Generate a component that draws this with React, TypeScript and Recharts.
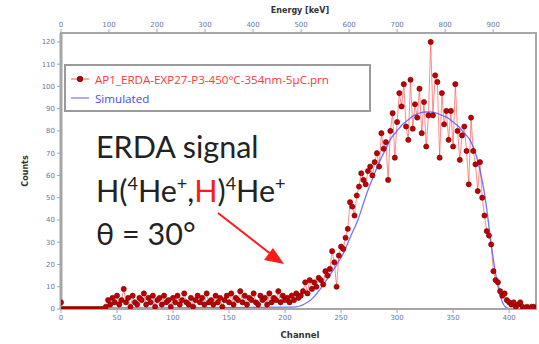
import React from "react";
import { ComposedChart, Line, XAxis, YAxis, ReferenceArea } from "recharts";

// Measured ERDA spectrum: counts per channel, one entry every CHANNEL_STEP channels starting at 0
const CHANNEL_STEP = 2;
const measuredCounts = [
  3,
  0, 0, 0, 0, 0, 0, 0, 0, 0, 0, 0, 0, 0, 0, 0, 0, 0, 0, 0,
  1, 4, 2, 5, 3, 6, 2, 4, 9, 3,
  5, 1, 6, 3, 2, 5, 4, 7, 2, 5,
  3, 6, 1, 4, 5, 2, 6, 3, 4, 1,
  5, 3, 6, 2, 4, 7, 3, 2, 5, 1,
  4, 6, 3, 5, 2, 7, 3, 4, 2, 6,
  3, 5, 1, 4, 6, 3, 7, 2, 5, 4,
  8, 3, 6, 2, 5, 4, 7, 3, 2, 6,
  4, 5, 2, 7, 3, 5, 4, 8, 3, 6,
  4, 5, 3, 6, 4, 7, 5, 6,
  8, 12, 7, 13, 9, 12, 10, 14, 13, 11,
  17, 15, 18, 26, 21, 10, 24, 28, 27, 32,
  36, 48, 46, 42, 51, 55, 61, 58, 56, 62,
  64, 60, 66, 70, 64, 79, 72, 75, 58, 80,
  88, 68, 84, 97, 91, 101, 82, 76, 103, 81,
  92, 86, 99, 79, 93, 73, 87, 120, 87, 105,
  102, 68, 97, 83, 89, 76, 89, 73, 101, 80,
  67, 78, 82, 71, 56, 86, 71, 65, 53, 66,
  50, 42, 35, 33, 29, 17, 13, 12, 8, 6,
  7, 4, 3, 2, 3, 1, 2, 3, 1, 0,
  1, 0, 1, 1, 0,
];

// Simulated spectrum
const simChannels = [
  0, 38, 42, 100, 200, 210, 220, 225, 230, 237, 245, 252, 258, 265, 273, 280, 285, 290,
  295, 300, 305, 310, 315, 320, 325, 330, 335, 340, 345, 350, 355, 360, 365, 370, 375,
  378, 380, 383, 386, 389, 392, 395, 398, 402, 424,
];
const simCounts = [
  0, 0, 0.5, 0.5, 0.8, 1, 3, 5, 8, 13, 19, 25, 32, 40, 52, 61, 67, 72,
  77, 80, 83, 85, 87, 88, 88.5, 88.5, 88, 87, 86, 84, 82, 79, 76, 70, 60,
  52, 45, 33, 22, 13, 6, 2, 0.5, 0, 0,
];

const countTicks = [0, 10, 20, 30, 40, 50, 60, 70, 80, 90, 100, 110, 120];
const channelTicks = [0, 50, 100, 150, 200, 250, 300, 350, 400];
const energyTicks = [0, 100, 200, 300, 400, 500, 600, 700, 800, 900];
const KEV_PER_CHANNEL = 2.333;
const CHANNEL_MAX = 424;
const COUNT_MAX = 124;

const measured = measuredCounts.map((c, i) => ({ ch: i * CHANNEL_STEP, counts: c }));
const simulated = simChannels.map((ch, i) => ({ ch, counts: simCounts[i] }));
const energyTickChannels = energyTicks.map((e) => e / KEV_PER_CHANNEL);

const tickStyle = { fontSize: 7, fill: "#6a7898", fontFamily: "'DejaVu Sans', sans-serif" };
const axisGray = "#a6a6a6";
const textFont = "Lato, 'Open Sans', sans-serif";
const SUP = 18;

export default function App() {
  return (
    <div style={{ position: "absolute", left: 0, top: 0, width: 539, height: 344, background: "#fff" }}>
      <ComposedChart width={539} height={344} margin={{ top: 0, right: 3, bottom: 0, left: 0 }}>
        <XAxis
          xAxisId="bottom"
          dataKey="ch"
          type="number"
          domain={[0, CHANNEL_MAX]}
          allowDataOverflow
          ticks={channelTicks}
          height={35}
          tick={tickStyle}
          tickSize={4}
          tickLine={{ stroke: axisGray }}
          axisLine={{ stroke: axisGray, strokeWidth: 2 }}
        />
        <XAxis
          xAxisId="top"
          orientation="top"
          dataKey="ch"
          type="number"
          domain={[0, CHANNEL_MAX]}
          allowDataOverflow
          ticks={energyTickChannels}
          tickFormatter={(v: number) => String(Math.round(v * KEV_PER_CHANNEL))}
          height={33}
          tick={tickStyle}
          tickSize={4}
          tickLine={{ stroke: axisGray }}
          axisLine={{ stroke: axisGray, strokeWidth: 2 }}
        />
        <YAxis
          yAxisId="left"
          type="number"
          domain={[0, COUNT_MAX]}
          allowDataOverflow
          ticks={countTicks}
          width={61}
          tick={tickStyle}
          tickSize={4}
          tickLine={{ stroke: axisGray }}
          axisLine={{ stroke: axisGray, strokeWidth: 3 }}
        />
        <ReferenceArea
          xAxisId="bottom"
          yAxisId="left"
          x1={0}
          x2={CHANNEL_MAX}
          y1={0}
          y2={COUNT_MAX}
          fill="none"
          stroke={axisGray}
          strokeWidth={2}
          ifOverflow="visible"
        />
        <Line
          xAxisId="bottom"
          yAxisId="left"
          data={measured}
          dataKey="counts"
          type="linear"
          stroke="#ff5a5a"
          strokeOpacity={0.7}
          strokeWidth={1}
          dot={{ r: 2.6, fill: "#c00000", stroke: "#6a0000", strokeWidth: 0.8 }}
          isAnimationActive={false}
        />
        <Line
          xAxisId="bottom"
          yAxisId="left"
          data={simulated}
          dataKey="counts"
          type="monotone"
          stroke="#5a5aff"
          strokeOpacity={0.85}
          strokeWidth={1.3}
          dot={false}
          isAnimationActive={false}
        />
      </ComposedChart>
      <svg
        width={539}
        height={344}
        style={{ position: "absolute", left: 0, top: 0, pointerEvents: "none" }}
      >
        <text x={300} y={13} textAnchor="middle" fontSize={8} fontWeight="bold" fill="#333" fontFamily="'DejaVu Sans', sans-serif">
          Energy [keV]
        </text>
        <text x={300} y={338} textAnchor="middle" fontSize={8.5} fontWeight="bold" fill="#333" fontFamily="'DejaVu Sans', sans-serif">
          Channel
        </text>
        <text
          x={28}
          y={171}
          textAnchor="middle"
          fontSize={8}
          fontWeight="bold"
          fill="#333"
          fontFamily="'DejaVu Sans', sans-serif"
          transform="rotate(-90 28 171)"
        >
          Counts
        </text>

        <rect x={65} y={65} width={305} height={46} fill="#fff" stroke="#9a9a9a" strokeWidth={2} />
        <line x1={71} y1={79} x2={89} y2={79} stroke="#ff5050" strokeWidth={1} />
        <circle cx={80} cy={79} r={2.8} fill="#c00000" stroke="#6a0000" strokeWidth={0.8} />
        <text x={95} y={83.5} fontSize={11.6} fill="#ff3838" fontFamily="'Open Sans', sans-serif">
          AP1_ERDA-EXP27-P3-450°C-354nm-5μC.prn
        </text>
        <line x1={71} y1={98} x2={89} y2={98} stroke="#5a5aff" strokeWidth={1} />
        <text x={95} y={102.5} fontSize={11.6} fill="#4848ff" fontFamily="'Open Sans', sans-serif">
          Simulated
        </text>

        <text x={96} y={158} fontSize={30.5} fill="#222" fontFamily={textFont}>
          ERDA signal
        </text>
        <text x={96} y={202} fontSize={30.5} fill="#222" fontFamily={textFont}>
          H(
          <tspan fontSize={SUP} dy={-12}>4</tspan>
          <tspan dy={12}>He</tspan>
          <tspan fontSize={SUP} dy={-12}>+</tspan>
          <tspan dy={12}>,</tspan>
          <tspan fill="#ff1a1a">H</tspan>
          <tspan>)</tspan>
          <tspan fontSize={SUP} dy={-12}>4</tspan>
          <tspan dy={12}>He</tspan>
          <tspan fontSize={SUP} dy={-12}>+</tspan>
        </text>
        <text x={96} y={245} fontSize={30.5} fill="#222" fontFamily={textFont}>
          θ = 30°
        </text>

        <line x1={218} y1={213} x2={272} y2={255} stroke="#ff1a1a" strokeWidth={2} />
        <polygon points="284,264 264,260 273,248" fill="#ff1a1a" />
      </svg>
    </div>
  );
}
